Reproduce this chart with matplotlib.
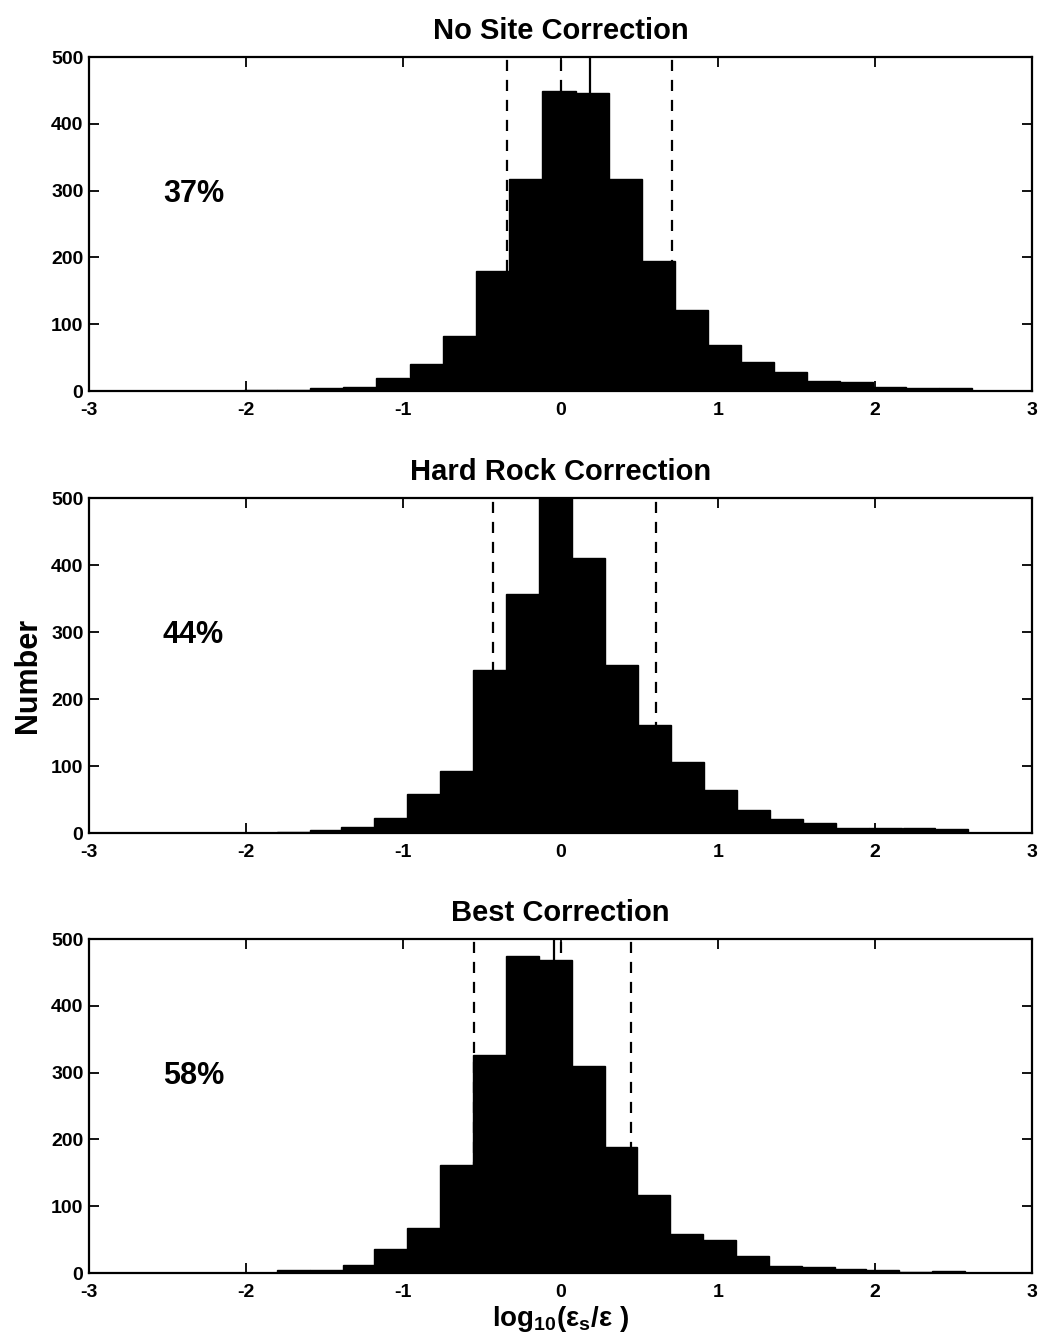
import numpy as np
import matplotlib
matplotlib.use("Agg")
import matplotlib.pyplot as plt

plt.rcParams['font.family'] = ['Liberation Sans', 'DejaVu Sans']
plt.rcParams['mathtext.default'] = 'regular'

# ---------------- data ----------------
titles = ["No Site Correction", "Hard Rock Correction", "Best Correction"]
percent_labels = ["37%", "44%", "58%"]

centers_nosite = [-1.91, -1.70, -1.49, -1.28, -1.07, -0.85, -0.64, -0.43, -0.22, -0.01,
                  0.20, 0.41, 0.62, 0.83, 1.04, 1.25, 1.46, 1.67, 1.88, 2.09, 2.30, 2.51]
counts_nosite = [1, 1, 4, 6, 19, 40, 82, 179, 318, 450,
                 446, 317, 195, 121, 69, 44, 29, 15, 14, 6, 5, 5]

centers_hardrock = [-1.70, -1.49, -1.29, -1.08, -0.87, -0.66, -0.45, -0.24, -0.03, 0.18,
                    0.39, 0.60, 0.81, 1.02, 1.23, 1.44, 1.65, 1.86, 2.07, 2.28, 2.49]
counts_hardrock = [2, 5, 9, 23, 58, 92, 243, 357, 520, 411,
                   251, 161, 106, 64, 34, 21, 15, 8, 8, 7, 6]

centers_best = [-1.70, -1.49, -1.28, -1.08, -0.87, -0.66, -0.45, -0.24, -0.03, 0.18,
                0.38, 0.59, 0.80, 1.01, 1.22, 1.43, 1.64, 1.84, 2.05, 2.26, 2.47]
counts_best = [4, 5, 12, 36, 67, 162, 327, 474, 468, 310,
               189, 117, 59, 49, 26, 11, 9, 6, 5, 2, 3]

mean_lines = [0.19, 0.05, -0.04]          # solid line (mean)
zero_lines = [0.0, 0.0, 0.0]              # dashed reference line
std_lines = [(-0.34, 0.71), (-0.43, 0.61), (-0.55, 0.45)]  # dashed +/- spread

xticks = [-3, -2, -1, 0, 1, 2, 3]
yticks = [0, 100, 200, 300, 400, 500]
pct_y = 295

# ---------------- figure ----------------
fig = plt.figure(figsize=(10.41, 13.41), dpi=100)
positions = [
    [0.0855, 0.7084, 0.906, 0.249],
    [0.0855, 0.3788, 0.906, 0.2498],
    [0.0855, 0.0507, 0.906, 0.249],
]
all_centers = [centers_nosite, centers_hardrock, centers_best]
all_counts = [counts_nosite, counts_hardrock, counts_best]

for i in range(3):
    ax = fig.add_axes(positions[i])
    c = np.array(all_centers[i])
    w = np.diff(c).mean()
    ax.bar(c, all_counts[i], width=w, color='black', edgecolor='black',
           linewidth=1.0, zorder=2)
    ax.axvline(mean_lines[i], color='black', lw=1.6, ls='-', zorder=1)
    ax.axvline(zero_lines[i], color='black', lw=1.6, ls=(0, (5, 4)), zorder=1)
    for s in std_lines[i]:
        ax.axvline(s, color='black', lw=1.6, ls=(0, (5, 4)), zorder=1)
    ax.set_xlim(-3, 3)
    ax.set_ylim(0, 500)
    ax.set_xticks(xticks)
    ax.set_yticks(yticks)
    ax.set_xticklabels([str(t) for t in xticks])
    ax.set_yticklabels([str(t) for t in yticks])
    ax.tick_params(direction='in', top=True, right=True, length=7, width=1.3,
                   labelsize=14)
    ax.tick_params(axis='x', pad=8)
    ax.tick_params(axis='y', pad=4)
    for lab in ax.get_xticklabels() + ax.get_yticklabels():
        lab.set_fontweight('bold')
    for sp in ax.spines.values():
        sp.set_linewidth(1.6)
    ax.set_title(titles[i], fontsize=21, pad=13, fontweight='bold')
    ax.text(-2.53, pct_y, percent_labels[i], fontsize=22, ha='left', va='center',
            fontweight='bold')
    if i == 2:
        ax.set_xlabel(r'log$_{10}$($\epsilon_s$/$\epsilon$ )', fontsize=20,
                      labelpad=2, fontweight='bold')

fig.text(0.027, 0.496, "Number", rotation=90, fontsize=22, fontweight='bold',
         ha='center', va='center')

fig.savefig("out.png", dpi=100)
